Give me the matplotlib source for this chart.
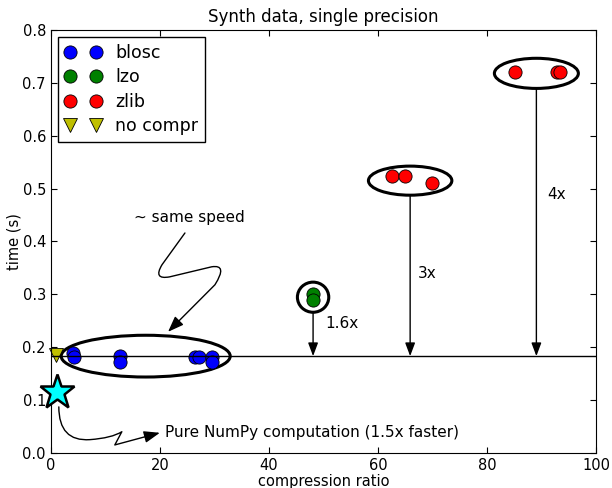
import numpy as np
import matplotlib
matplotlib.use("Agg")
import matplotlib.pyplot as plt
from matplotlib.patches import Ellipse, FancyArrowPatch
from matplotlib.path import Path

# compression ratio / time (s)
blosc_cr = [4.1, 4.3, 12.7, 12.7, 26.4, 27.2, 29.5, 29.5]
blosc_t = [0.189, 0.181, 0.183, 0.171, 0.182, 0.182, 0.182, 0.171]
lzo_cr = [48.0, 48.0]
lzo_t = [0.301, 0.290]
zlib_cr = [62.6, 64.9, 69.9, 85.1, 92.8, 93.3]
zlib_t = [0.523, 0.523, 0.511, 0.721, 0.721, 0.721]
nocompr_cr = [0.9]
nocompr_t = [0.185]
numpy_cr = [1.15]
numpy_t = [0.116]
nocompr_level = 0.183

# groups circled in the chart: (center x, center y, width, height)
groups = [(17.4, 0.183, 31.0, 0.079),
          (48.1, 0.2945, 5.75, 0.057),
          (65.9, 0.515, 15.3, 0.055),
          (89.05, 0.718, 15.4, 0.057)]
speedups = ["1.6x", "3x", "4x"]
speedup_pos = [(50.3, 0.245), (67.3, 0.34), (91.0, 0.488)]

fig = plt.figure(figsize=(6.12, 4.88), dpi=100)
ax = fig.add_axes([0.083, 0.072, 0.891, 0.8665])

ms = 9.5
ax.plot(blosc_cr, blosc_t, 'o', color='blue', mec='black', mew=0.6, ms=ms, label='blosc')
ax.plot(lzo_cr, lzo_t, 'o', color='green', mec='black', mew=0.6, ms=ms, label='lzo')
ax.plot(zlib_cr, zlib_t, 'o', color='red', mec='black', mew=0.6, ms=ms, label='zlib')
ax.plot(nocompr_cr, nocompr_t, 'v', color='#bfbf00', mec='black', mew=0.6, ms=10.5,
        clip_on=False, label='no compr')
ax.plot(numpy_cr, numpy_t, '*', color='cyan', mec='black', mew=1.8, ms=26, clip_on=False, zorder=5)

ax.axhline(nocompr_level, color='black', lw=1)

for cx, cy, w, h in groups:
    ax.add_patch(Ellipse((cx, cy), w, h, fill=False, ec='black', lw=2.2))

# speed-up arrows from each circled group down to the no-compression line
for (cx, cy, w, h), lab, (tx, ty) in zip(groups[1:], speedups, speedup_pos):
    ax.annotate('', xy=(cx, nocompr_level), xytext=(cx, cy - h / 2),
                arrowprops=dict(arrowstyle='-|>,head_length=0.8,head_width=0.3',
                                color='black', lw=1, shrinkA=0, shrinkB=0))
    ax.text(tx, ty, lab, fontsize=11, va='center', ha='left')

# squiggly arrows
same_verts = [(24.6, 0.416), (20.4, 0.356), (18.7, 0.327), (21.8, 0.333),
              (29.5, 0.352), (32.5, 0.357), (30.1, 0.318), (21.5, 0.229)]
same_codes = [Path.MOVETO, Path.LINETO, Path.CURVE3, Path.CURVE3,
              Path.LINETO, Path.CURVE3, Path.CURVE3, Path.LINETO]
ax.add_patch(FancyArrowPatch(path=Path(same_verts, same_codes), transform=ax.transData,
                             arrowstyle='-|>,head_length=0.8,head_width=0.3',
                             mutation_scale=12, color='black', lw=1))
ax.text(25.5, 0.446, '~ same speed', fontsize=11, ha='center', va='center')

np_verts = [(1.47, 0.087), (1.47, 0.021), (7.16, 0.025), (11.19, 0.028),
            (13.03, 0.040), (11.74, 0.015), (20.0, 0.038)]
np_codes = [Path.MOVETO, Path.CURVE3, Path.CURVE3, Path.CURVE3, Path.CURVE3,
            Path.LINETO, Path.LINETO]
ax.add_patch(FancyArrowPatch(path=Path(np_verts, np_codes), transform=ax.transData,
                             arrowstyle='-|>,head_length=0.8,head_width=0.3',
                             mutation_scale=12, color='black', lw=1))
ax.text(21.0, 0.038, 'Pure NumPy computation (1.5x faster)', fontsize=11, ha='left', va='center')

ax.set_xlim(0, 100)
ax.set_ylim(0, 0.8)
ax.set_xticks(np.arange(0, 101, 20))
ax.set_yticks(np.arange(0, 0.81, 0.1))
ax.tick_params(direction='in', top=True, right=True, length=4, labelsize=10.5)
ax.set_title('Synth data, single precision', fontsize=12)
ax.set_xlabel('compression ratio', fontsize=10.5, labelpad=1)
ax.set_ylabel('time (s)', fontsize=10.5, labelpad=1)

leg = ax.legend(loc='upper left', bbox_to_anchor=(0.0128, 0.983), numpoints=2,
                fancybox=False, fontsize=12.5, borderpad=0.4, borderaxespad=0,
                handlelength=2.1, handletextpad=0.79, labelspacing=0.36)
leg.get_frame().set_edgecolor('black')
leg.get_frame().set_alpha(1)

fig.savefig('out.png', dpi=100)
